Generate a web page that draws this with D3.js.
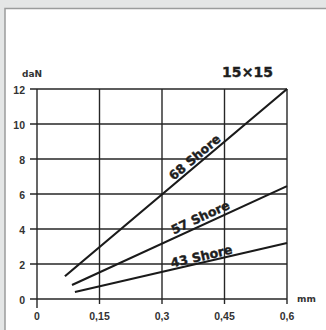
<!DOCTYPE html>
<html><head><meta charset="utf-8">
<script src="https://cdn.jsdelivr.net/npm/d3@7"></script>
<style>html,body{margin:0;padding:0;background:#e4e6e6;}svg{display:block;}</style>
</head><body>
<script>
const xTicks = [0, 0.15, 0.3, 0.45, 0.6];
const xTickLabels = ["0", "0,15", "0,3", "0,45", "0,6"];
const yTicks = [0, 2, 4, 6, 8, 10, 12];
const seriesNames = ["68 Shore", "57 Shore", "43 Shore"];
const shore68 = [[0.067, 1.3], [0.6, 12]];
const shore57 = [[0.084, 0.8], [0.6, 6.45]];
const shore43 = [[0.091, 0.4], [0.6, 3.2]];
const title = "15×15";
const yUnit = "daN";
const xUnit = "mm";

const W = 326, H = 330;
const svg = d3.select("body").append("svg").attr("width", W).attr("height", H);
svg.append("rect").attr("x", 0).attr("y", 0).attr("width", W).attr("height", H).attr("fill", "#e4e6e6");
svg.append("rect").attr("x", 5).attr("y", 8.5).attr("width", W).attr("height", H).attr("fill", "#fff")
  .attr("stroke", "#9a9c9c").attr("stroke-width", 1.5);

const x = d3.scaleLinear().domain([0, 0.6]).range([37, 287]);
const y = d3.scaleLinear().domain([0, 12]).range([299, 89]);
const ink = "#262626";
const font = "Arial, 'Liberation Sans', sans-serif";
const wide = "'DejaVu Sans', sans-serif";

// grid
const g = svg.append("g");
g.selectAll(".vg").data(xTicks).join("line")
  .attr("x1", d => x(d)).attr("x2", d => x(d))
  .attr("y1", y(12)).attr("y2", (d, i) => i === 0 ? 308 : 304)
  .attr("stroke", ink).attr("stroke-width", 1.4);
g.selectAll(".hg").data(yTicks).join("line")
  .attr("x1", 30).attr("x2", x(0.6))
  .attr("y1", d => y(d)).attr("y2", d => y(d))
  .attr("stroke", ink).attr("stroke-width", 1.4);

// axis labels
svg.selectAll(".yl").data(yTicks).join("text")
  .attr("x", 25).attr("y", d => y(d) + 5).attr("text-anchor", "end")
  .attr("font-family", font).attr("font-weight", "bold").attr("font-size", 10.5).attr("fill", "#333")
  .text(d => d);
svg.selectAll(".xl").data(xTicks).join("text")
  .attr("x", d => x(d)).attr("y", 320).attr("text-anchor", "middle")
  .attr("font-family", font).attr("font-weight", "bold").attr("font-size", 10.5).attr("fill", "#333")
  .text((d, i) => xTickLabels[i]);
svg.append("text").attr("x", 22).attr("y", 77).attr("font-family", wide).attr("font-weight", "bold")
  .attr("font-size", 9).attr("fill", "#333").text(yUnit);
svg.append("text").attr("x", 297).attr("y", 302).attr("font-family", wide).attr("font-weight", "bold")
  .attr("font-size", 9).attr("fill", "#333").text(xUnit);
svg.append("text").attr("x", 222).attr("y", 77).attr("font-family", wide).attr("font-weight", "900")
  .attr("font-size", 14).attr("fill", "#1e1e1e").attr("stroke", "#1e1e1e").attr("stroke-width", 0.4)
  .attr("textLength", 51).text(title);

// series lines
const series = [shore68, shore57, shore43];
const line = d3.line().x(d => x(d[0])).y(d => y(d[1]));
svg.selectAll(".sl").data(series).join("path")
  .attr("d", line).attr("fill", "none").attr("stroke", "#1a1a1a").attr("stroke-width", 2.2);

// rotated labels along lines
const labelPos = [0.39, 0.4, 0.398];
const offsets = [3, 3.5, 2];
series.forEach((s, i) => {
  const [p0, p1] = s;
  const ang = Math.atan2(y(p1[1]) - y(p0[1]), x(p1[0]) - x(p0[0])) * 180 / Math.PI;
  const xv = labelPos[i];
  const t = (xv - p0[0]) / (p1[0] - p0[0]);
  const yv = p0[1] + t * (p1[1] - p0[1]);
  svg.append("text")
    .attr("transform", `translate(${x(xv)},${y(yv)}) rotate(${ang}) translate(0,${-offsets[i]})`)
    .attr("text-anchor", "middle").attr("font-family", wide).attr("font-weight", "900")
    .attr("font-size", 12.5).attr("fill", "#1e1e1e").attr("stroke", "#1e1e1e").attr("stroke-width", 0.4)
    .text(seriesNames[i]);
});
</script>
</body></html>
